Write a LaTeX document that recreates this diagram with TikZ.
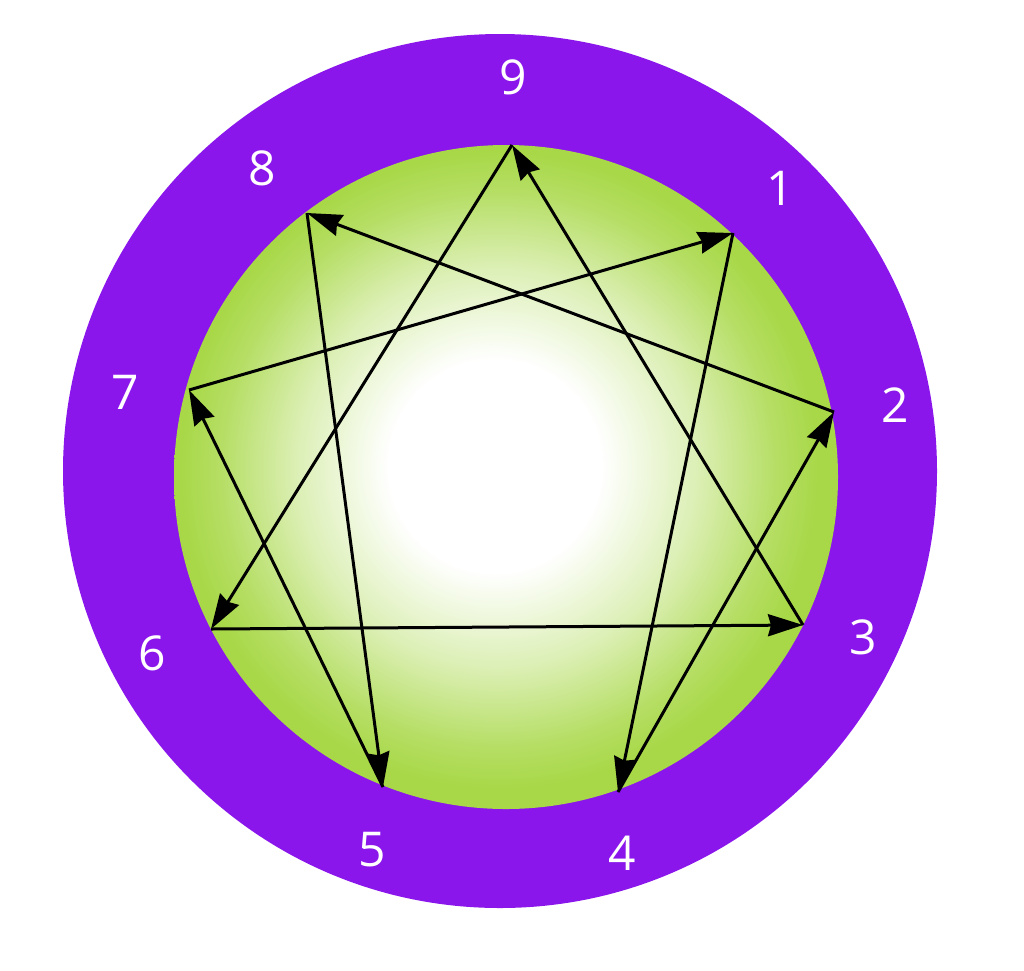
\documentclass[tikz,border=0pt]{standalone}
\usepackage{fontspec}
\setmainfont{Open Sans}
\usetikzlibrary{arrows.meta}
\definecolor{epurple}{RGB}{138,22,235}
\definecolor{egreen}{RGB}{168,216,72}
\pgfdeclareradialshading{ennshade}{\pgfpoint{-1bp}{1bp}}{color(0bp)=(white); color(8bp)=(white); color(15bp)=(egreen!40!white); color(21bp)=(egreen!85!white); color(24bp)=(egreen); color(50bp)=(egreen)}
\begin{document}
\begin{tikzpicture}[x=1pt,y=-1pt,
  lbl/.style={text=white, font=\fontsize{48}{48}\selectfont, inner sep=0pt},
  arr/.style={line width=3pt, black, line join=round, -{Stealth[length=35pt,width=22pt,inset=3pt]}}]
\useasboundingbox (0,0) rectangle (1024,970);
\fill[white] (0,0) rectangle (1024,970);
\fill[epurple] (500,471) circle[radius=437];
\shade[shading=ennshade] (506,477) circle[radius=332];
% points
\coordinate (p9) at (512,145);
\coordinate (p1) at (733,233);
\coordinate (p2) at (834,412);
\coordinate (p3) at (803,625);
\coordinate (p4) at (618,792);
\coordinate (p5) at (383,787);
\coordinate (p6) at (211,629);
\coordinate (p7) at (189,390);
\coordinate (p8) at (307,213);
% connectors
\draw[arr] (p1) -- (p4);
\draw[arr] (p4) -- (p2);
\draw[arr] (p2) -- (p8);
\draw[arr] (p8) -- (p5);
\draw[arr] (p5) -- (p7);
\draw[arr] (p7) -- (p1);
\draw[arr] (p9) -- (p6);
\draw[arr] (p6) -- (p3);
\draw[arr] (p3) -- (p9);
% labels
\node[lbl] (l9) at (513,77) {9};
\node[lbl] (l8) at (262,168) {8};
\node[lbl] (l1) at (780,188) {1};
\node[lbl] (l2) at (895,405) {2};
\node[lbl] (l3) at (863,637) {3};
\node[lbl] (l4) at (622,853) {4};
\node[lbl] (l5) at (372,850) {5};
\node[lbl] (l6) at (152,653) {6};
\node[lbl] (l7) at (125,392) {7};
\end{tikzpicture}
\end{document}
